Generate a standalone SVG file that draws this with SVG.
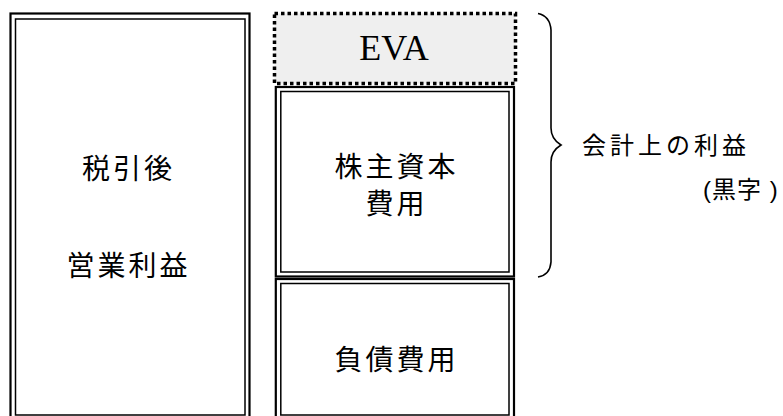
<svg xmlns="http://www.w3.org/2000/svg" width="783" height="416" viewBox="0 0 783 416">
<style>
.o{fill:none;stroke:#000;stroke-width:2.2}
.i{fill:none;stroke:#000;stroke-width:1.5}
.jp{font-family:"Noto Sans CJK JP","Noto Sans",sans-serif;fill:#000}
.big{font-size:28px;letter-spacing:3px}
.lbl{font-size:24px;letter-spacing:4px}
.par{font-family:"Liberation Sans","Noto Sans CJK JP",sans-serif;font-size:24px;letter-spacing:1px;fill:#000}
.eva{font-family:"Liberation Serif",serif;font-size:36px;fill:#000}
</style>
<rect width="783" height="416" fill="#fff"/>
<g id="left">
<rect class="o" x="10.5" y="13.5" width="239" height="430"/>
<rect class="i" x="15.5" y="19" width="229.5" height="396"/>
<text class="jp big" x="128.5" y="179" text-anchor="middle">税引後</text>
<text class="jp big" x="128.5" y="276" text-anchor="middle">営業利益</text>
</g>
<g id="eva">
<rect x="274.5" y="13.5" width="241" height="70" fill="#efefef" stroke="#000" stroke-width="3.5" stroke-dasharray="3.5 3"/>
<text class="eva" x="394" y="60" text-anchor="middle">EVA</text>
</g>
<g id="equity">
<rect class="o" x="275.8" y="87" width="238.2" height="189.5"/>
<rect class="i" x="280.8" y="91.5" width="228.2" height="180.5"/>
<text class="jp big" x="396.5" y="177" text-anchor="middle">株主資本</text>
<text class="jp big" x="396.5" y="214" text-anchor="middle">費用</text>
</g>
<g id="debt">
<rect class="o" x="275.8" y="279" width="238.2" height="160"/>
<rect class="i" x="280.8" y="283.5" width="228.2" height="131.5"/>
<text class="jp big" x="396.5" y="370" text-anchor="middle">負債費用</text>
</g>
<g id="connectors">
<path d="M538,13.5 Q550,16 551,30 L551,128 Q551,139 561,145 Q551,151 551,162 L551,262 Q550,275 538,277" fill="none" stroke="#000" stroke-width="1.6"/>
</g>
<g id="labels">
<text class="jp lbl" x="582" y="154">会計上の利益</text>
<text class="par" x="703" y="198">(黒字 )</text>
</g>
</svg>
